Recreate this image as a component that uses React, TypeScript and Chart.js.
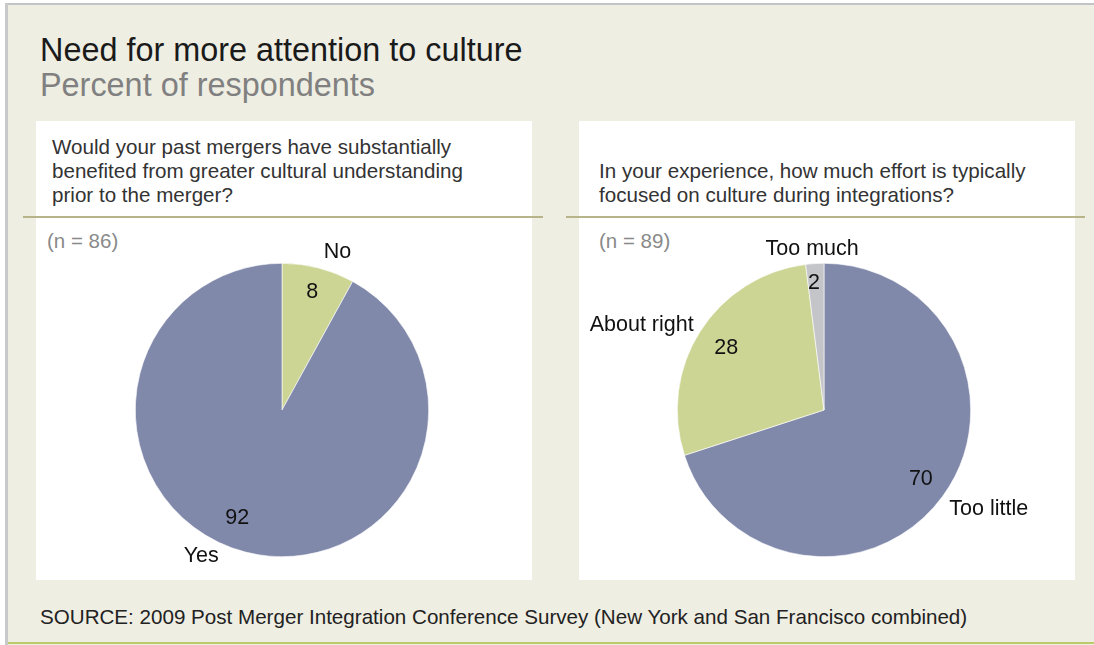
import React, { useEffect, useRef } from "react";
import { Chart, registerables } from "chart.js";

Chart.register(...registerables);

// ---------- data ----------
const leftCategories = ["No", "Yes"];
const leftValues = [8, 92];
const rightCategories = ["Too little", "About right", "Too much"];
const rightValues = [70, 28, 2];

const titleText = "Need for more attention to culture";
const subtitleText = "Percent of respondents";
const leftQuestion = [
  "Would your past mergers have substantially",
  "benefited from greater cultural understanding",
  "prior to the merger?",
];
const rightQuestion = [
  "In your experience, how much effort is typically",
  "focused on culture during integrations?",
];
const leftN = "(n = 86)";
const rightN = "(n = 89)";
const sourceText =
  "SOURCE: 2009 Post Merger Integration Conference Survey (New York and San Francisco combined)";

// ---------- styles ----------
const BLUE = "#8189ab";
const GREEN = "#cdd595";
const GRAY = "#c4c5c8";
const leftColors = [GREEN, BLUE];
const rightColors = [BLUE, GREEN, GRAY];
const FONT = "'Liberation Sans', Arial, Helvetica, sans-serif";

// label placement: [angleOffsetDeg, radiusFactor]
const leftInner = [[0, 0.83], [8, 0.8]];
const leftOuter = [[5, 1.14], [14.5, 1.14]];
const rightInner = [[-0.6, 0.81], [0, 0.79], [-0.9, 0.87]];
const rightOuter = [[-5, 1.31], [-7.5, 1.37], [-0.6, 1.1]];

type LabelCfg = {
  inner: number[][];
  outer: number[][];
  labels: string[];
};

const labelPlugin = {
  id: "pieLabels",
  afterDatasetsDraw(chart: any, _args: any, opts: LabelCfg) {
    const ctx = chart.ctx;
    const meta = chart.getDatasetMeta(0);
    const values = chart.data.datasets[0].data;
    ctx.save();
    ctx.font = `21.5px ${FONT}`;
    ctx.fillStyle = "#111111";
    ctx.textAlign = "center";
    ctx.textBaseline = "middle";
    meta.data.forEach((arc: any, i: number) => {
      const p = arc.getProps(["x", "y", "startAngle", "endAngle", "outerRadius"], true);
      const mid = (p.startAngle + p.endAngle) / 2;
      const [ia, ir] = opts.inner[i];
      const a1 = mid + (ia * Math.PI) / 180;
      ctx.fillText(String(values[i]), p.x + Math.cos(a1) * p.outerRadius * ir, p.y + Math.sin(a1) * p.outerRadius * ir);
      const [oa, or] = opts.outer[i];
      const a2 = mid + (oa * Math.PI) / 180;
      ctx.fillText(opts.labels[i], p.x + Math.cos(a2) * p.outerRadius * or, p.y + Math.sin(a2) * p.outerRadius * or);
    });
    ctx.restore();
  },
};

function PieChart(props: {
  labels: string[];
  values: number[];
  colors: string[];
  inner: number[][];
  outer: number[][];
  padding: { left: number; right: number; top: number; bottom: number };
  width: number;
  height: number;
}) {
  const ref = useRef<HTMLCanvasElement | null>(null);
  useEffect(() => {
    if (!ref.current) return;
    const chart = new Chart(ref.current, {
      type: "pie",
      data: {
        labels: props.labels,
        datasets: [
          {
            data: props.values,
            backgroundColor: props.colors,
            borderColor: "#ffffff",
            borderWidth: 0.6,
          },
        ],
      },
      options: {
        animation: false,
        responsive: false,
        devicePixelRatio: 1,
        layout: { padding: props.padding },
        plugins: {
          legend: { display: false },
          tooltip: { enabled: false },
          pieLabels: { inner: props.inner, outer: props.outer, labels: props.labels },
        } as any,
      },
      plugins: [labelPlugin as any],
    });
    return () => chart.destroy();
  }, []);
  return <canvas ref={ref} width={props.width} height={props.height} style={{ display: "block", width: props.width, height: props.height }} />;
}

const abs = (l: number, t: number, w: number, h: number, extra: React.CSSProperties = {}): React.CSSProperties => ({
  position: "absolute",
  left: l,
  top: t,
  width: w,
  height: h,
  ...extra,
});

export default function App() {
  return (
    <div style={{ position: "fixed", left: 0, top: 0, width: 1094, height: 645, background: "#ffffff", overflow: "hidden", fontFamily: FONT }}>
      {/* frame */}
      <div style={abs(5, 3, 1089, 642, { background: "#efeee3" })} />
      <div style={abs(5, 3, 1089, 2, { background: "#c2c3c5" })} />
      <div style={abs(5, 3, 3, 642, { background: "#c8c9cb" })} />
      <div style={abs(8, 642, 1086, 2, { background: "#bccb6a" })} />

      {/* title */}
      <div style={abs(40, 33, 900, 70, { fontSize: 32.4, lineHeight: "35px", color: "#1a1a1a", whiteSpace: "nowrap" })}>
        {titleText}
        <br />
        <span style={{ color: "#808080" }}>{subtitleText}</span>
      </div>

      {/* panels */}
      <div style={abs(36, 121, 496, 459, { background: "#ffffff" })} />
      <div style={abs(579, 121, 496, 459, { background: "#ffffff" })} />
      <div style={abs(23, 216, 520, 2, { background: "#b7b48a" })} />
      <div style={abs(566, 216, 519, 2, { background: "#b7b48a" })} />

      {/* questions */}
      <div style={abs(52, 135, 480, 80, { fontSize: 20.6, lineHeight: "24px", color: "#333333", whiteSpace: "nowrap" })}>
        {leftQuestion.map((q, i) => (
          <div key={i}>{q}</div>
        ))}
      </div>
      <div style={abs(599, 159, 480, 60, { fontSize: 20.6, lineHeight: "24px", color: "#333333", whiteSpace: "nowrap" })}>
        {rightQuestion.map((q, i) => (
          <div key={i}>{q}</div>
        ))}
      </div>
      <div style={abs(47, 229, 200, 24, { fontSize: 20.5, lineHeight: "24px", color: "#8a8a8a" })}>{leftN}</div>
      <div style={abs(599, 229, 200, 24, { fontSize: 20.5, lineHeight: "24px", color: "#8a8a8a" })}>{rightN}</div>

      {/* charts */}
      <div style={abs(36, 218, 496, 362)}>
        <PieChart
          labels={leftCategories}
          values={leftValues}
          colors={leftColors}
          inner={leftInner}
          outer={leftOuter}
          padding={{ left: 99, right: 103, top: 45, bottom: 23 }}
          width={496}
          height={362}
        />
      </div>
      <div style={abs(579, 218, 496, 362)}>
        <PieChart
          labels={rightCategories}
          values={rightValues}
          colors={rightColors}
          inner={rightInner}
          outer={rightOuter}
          padding={{ left: 98, right: 104, top: 45, bottom: 23 }}
          width={496}
          height={362}
        />
      </div>

      {/* source */}
      <div style={abs(40, 605, 1040, 24, { fontSize: 20.6, lineHeight: "24px", color: "#222222", whiteSpace: "nowrap" })}>{sourceText}</div>
    </div>
  );
}
